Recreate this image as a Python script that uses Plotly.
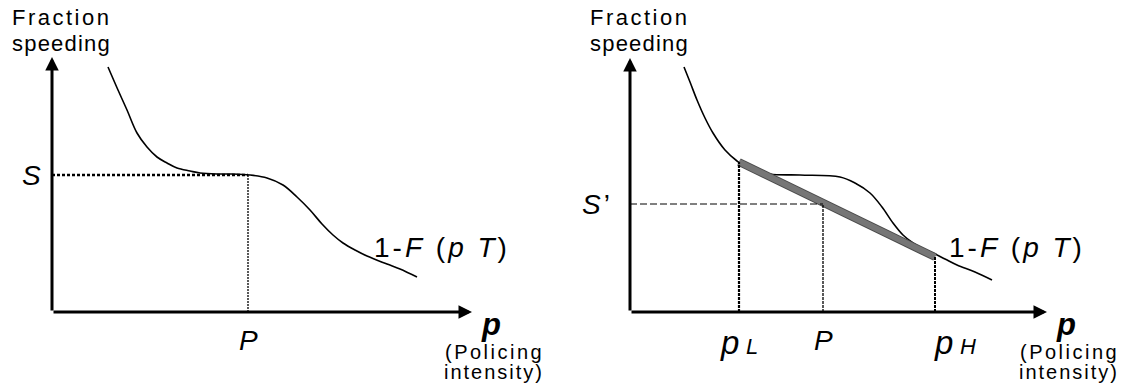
import plotly.graph_objects as go

# speeding curve 1-F(pT), left panel (p, fraction speeding)
left_p = [0.56, 0.66, 0.75, 0.85, 0.95, 1.05, 1.15, 1.25, 1.38, 1.48, 1.65, 1.81, 1.98,
          2.15, 2.31, 2.45, 2.58, 2.70, 2.81, 2.91, 3.03, 3.15, 3.35, 3.48, 3.65]
left_s = [2.45, 2.22, 2.02, 1.79, 1.65, 1.55, 1.49, 1.44, 1.41, 1.39, 1.38, 1.38, 1.37,
          1.34, 1.27, 1.15, 1.02, 0.88, 0.77, 0.69, 0.62, 0.56, 0.48, 0.43, 0.35]
left_P = 1.96
left_S = 1.37

# right panel curve
right_p = [0.54, 0.60, 0.67, 0.75, 0.83, 0.95, 1.07, 1.10, 1.25, 1.40, 1.70, 2.10, 2.25,
           2.40, 2.52, 2.63, 2.73, 2.83, 2.93, 3.03, 3.15, 3.27, 3.45, 3.62]
right_s = [2.45, 2.30, 2.12, 1.94, 1.79, 1.62, 1.51, 1.49, 1.43, 1.38, 1.37, 1.35, 1.29,
           1.19, 1.05, 0.89, 0.77, 0.69, 0.63, 0.59, 0.53, 0.47, 0.40, 0.32]
# randomised policing: mix of p_L and p_H
band_p = [1.09, 3.05]   # p_L, p_H
band_s = [1.50, 0.55]
right_P = 1.93
right_S = 1.08

x_tip = [4.20, 4.17]
y_tip = [2.55, 2.54]

FONT = "Liberation Sans, Arial, sans-serif"


def spaced(txt, px):
    # original figure text is set with loose letter spacing
    return f"<span style='letter-spacing:{px}px'>{txt}</span>"


fig = go.Figure()

# left panel
fig.add_trace(go.Scatter(x=left_p, y=left_s, mode="lines", line=dict(color="black", width=1.6),
                         line_shape="spline", xaxis="x", yaxis="y"))
fig.add_trace(go.Scatter(x=[0, left_P], y=[left_S, left_S], mode="lines",
                         line=dict(color="black", width=2.5, dash="3px,2px"), xaxis="x", yaxis="y"))
fig.add_trace(go.Scatter(x=[left_P, left_P], y=[0, left_S], mode="lines",
                         line=dict(color="black", width=1.3, dash="2px,1px"), xaxis="x", yaxis="y"))

# right panel
fig.add_trace(go.Scatter(x=right_p, y=right_s, mode="lines", line=dict(color="black", width=1.6),
                         line_shape="spline", xaxis="x2", yaxis="y2"))
fig.add_trace(go.Scatter(x=band_p, y=band_s, mode="lines", line=dict(color="#4a4a4a", width=8),
                         xaxis="x2", yaxis="y2"))
fig.add_trace(go.Scatter(x=band_p, y=band_s, mode="lines", line=dict(color="#767676", width=6),
                         xaxis="x2", yaxis="y2"))
fig.add_trace(go.Scatter(x=[0, right_P], y=[right_S, right_S], mode="lines",
                         line=dict(color="black", width=1, dash="7px,3px"), xaxis="x2", yaxis="y2"))
for p, s, w in [(band_p[0], band_s[0], 2.2), (right_P, right_S, 1.3), (band_p[1], band_s[1], 2)]:
    fig.add_trace(go.Scatter(x=[p, p], y=[0, s], mode="lines",
                             line=dict(color="black", width=w, dash="3px,1px"), xaxis="x2", yaxis="y2"))

ann = []
for i, (xr, yr) in enumerate([("x", "y"), ("x2", "y2")]):
    # axes with arrow heads
    for tx, ty in [(x_tip[i], 0), (0, y_tip[i])]:
        ann.append(dict(x=tx, y=ty, ax=0, ay=0, xref=xr, yref=yr, axref=xr, ayref=yr, text="",
                        showarrow=True, arrowhead=2, arrowsize=0.9, arrowwidth=3, arrowcolor="black"))
    ann.append(dict(x=-0.42, y=2.95, xref=xr, yref=yr, text=spaced("Fraction", 2.5), showarrow=False,
                    xanchor="left", yanchor="middle", font=dict(size=22)))
    ann.append(dict(x=-0.42, y=2.69, xref=xr, yref=yr, text=spaced("speeding", 1.2), showarrow=False,
                    xanchor="left", yanchor="middle", font=dict(size=22)))
    ann.append(dict(x=x_tip[i] + 0.19, y=-0.12, xref=xr, yref=yr, text="<b><i>p</i></b>", showarrow=False,
                    xanchor="center", yanchor="middle", font=dict(size=31)))
    ann.append(dict(x=x_tip[i] + 0.22, y=-0.40, xref=xr, yref=yr, text=spaced("(Policing", 2.5),
                    showarrow=False, xanchor="center", yanchor="middle", font=dict(size=20)))
    ann.append(dict(x=x_tip[i] + 0.22, y=-0.60, xref=xr, yref=yr, text=spaced("intensity)", 2),
                    showarrow=False, xanchor="center", yanchor="middle", font=dict(size=20)))
    ann.append(dict(x=[3.20, 3.17][i], y=0.65, xref=xr, yref=yr,
                    text=spaced("1-<i>F</i> (<i>p</i> <i>T</i>)", 3), showarrow=False,
                    xanchor="left", yanchor="middle", font=dict(size=28)))

ann.append(dict(x=-0.09, y=left_S, xref="x", yref="y", text="<i>S</i>", showarrow=False,
                xanchor="right", yanchor="middle", font=dict(size=28)))
ann.append(dict(x=left_P, y=-0.28, xref="x", yref="y", text="<i>P</i>", showarrow=False,
                xanchor="center", yanchor="middle", font=dict(size=28)))
ann.append(dict(x=-0.15, y=right_S, xref="x2", yref="y2", text=spaced("<i>S</i>\u2019", 3), showarrow=False,
                xanchor="right", yanchor="middle", font=dict(size=28)))
ann.append(dict(x=right_P, y=-0.28, xref="x2", yref="y2", text="<i>P</i>", showarrow=False,
                xanchor="center", yanchor="middle", font=dict(size=28)))
ann.append(dict(x=band_p[0], y=-0.30, xref="x2", yref="y2",
                text="<i>p</i>\u2009<i><span style='font-size:22px'>L</span></i>",
                showarrow=False, xanchor="center", yanchor="middle", font=dict(size=33)))
ann.append(dict(x=band_p[1] + 0.2, y=-0.30, xref="x2", yref="y2",
                text="<i>p</i>\u2009<i><span style='font-size:22px'>H</span></i>",
                showarrow=False, xanchor="center", yanchor="middle", font=dict(size=33)))

hidden = dict(visible=False, fixedrange=True)
fig.update_layout(
    width=1125, height=389,
    margin=dict(l=0, r=0, t=0, b=0),
    paper_bgcolor="white", plot_bgcolor="white",
    font=dict(family=FONT, color="black"),
    showlegend=False,
    xaxis=dict(domain=[0, 0.5], range=[-0.52, 5.105], **hidden),
    yaxis=dict(domain=[0, 1], range=[-0.77, 3.12], **hidden),
    xaxis2=dict(domain=[0.5, 1], range=[-0.675, 4.95], **hidden),
    yaxis2=dict(domain=[0, 1], range=[-0.77, 3.12], anchor="x2", **hidden),
    annotations=ann,
)

fig.write_html("out.html", config={"displayModeBar": False},
               post_script="document.body.style.margin='0';")
